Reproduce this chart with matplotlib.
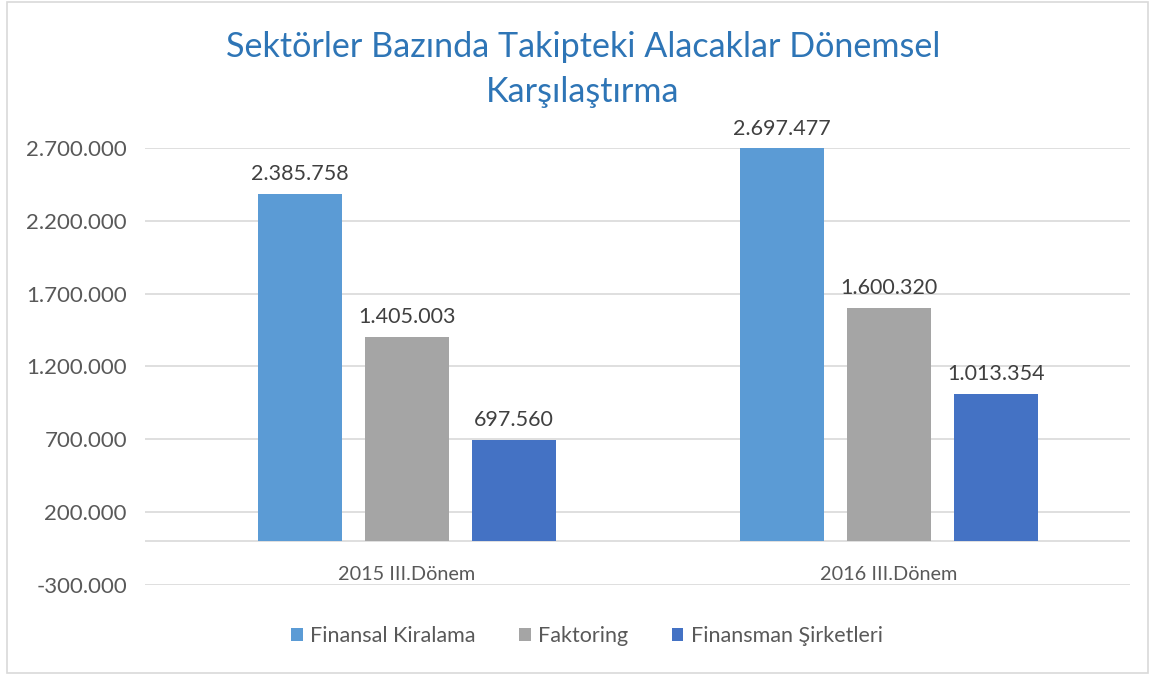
import matplotlib
matplotlib.use("Agg")
import matplotlib.pyplot as plt
from matplotlib.patches import Rectangle
from matplotlib.ticker import FuncFormatter

plt.rcParams['font.family'] = ['Lato', 'DejaVu Sans']

categories = ["2015 III.Dönem", "2016 III.Dönem"]
series_names = ["Finansal Kiralama", "Faktoring", "Finansman Şirketleri"]
finansal_kiralama = [2385758, 2697477]
faktoring = [1405003, 1600320]
finansman = [697560, 1013354]
yticks = [-300000, 200000, 700000, 1200000, 1700000, 2200000, 2700000]
title = "Sektörler Bazında Takipteki Alacaklar Dönemsel\nKarşılaştırma"

colors = ["#5B9BD5", "#A5A5A5", "#4472C4"]
text_color = "#595959"
grid_color = "#D9D9D9"

def fmt(v):
    s = f"{abs(int(round(v))):,}".replace(",", ".")
    return ("-" if v < 0 else "") + s

fig = plt.figure(figsize=(11.55, 6.75), dpi=100)
ax = fig.add_axes([145/1155, 1-585/675, (1130-145)/1155, (585-148)/675])

series = [finansal_kiralama, faktoring, finansman]
bw = 0.174
step = 0.222
for i, (name, vals, c) in enumerate(zip(series_names, series, colors)):
    xs = [k + (i - 1) * step for k in range(len(categories))]
    ax.bar(xs, vals, width=bw, color=c, label=name, zorder=3)
    for x, v in zip(xs, vals):
        ax.annotate(fmt(v), (x, v), xytext=(0, 7), textcoords="offset points",
                    ha="center", va="bottom", fontsize=15.5, color="#404040")

ax.set_xlim(-0.5436, 1.5)
ax.set_ylim(-300000, 2700000)
ax.set_yticks(yticks)
ax.yaxis.set_major_formatter(FuncFormatter(lambda v, p: fmt(v)))
ax.tick_params(axis='y', length=0, labelsize=16, labelcolor=text_color, pad=13)
ax.set_xticks([])
ax.grid(axis='y', color=grid_color, linewidth=1.2, zorder=0)
ax.axhline(0, color=grid_color, linewidth=1.2, zorder=1)
for s in ax.spines.values():
    s.set_visible(False)

for k, cat in enumerate(categories):
    ax.text(k, -227000, cat, ha="center", va="center", fontsize=14.3, color=text_color)

fig.suptitle(title, x=583/1155, y=1-31/675, va="top", fontsize=24.6, color="#2E75B6", linespacing=1.5)

handles, labels = ax.get_legend_handles_labels()
leg = fig.legend(handles, labels, loc="center", bbox_to_anchor=(587/1155, 1-636/675), ncol=3,
                 frameon=False, fontsize=15.5, handlelength=0.55, handleheight=0.55,
                 handletextpad=0.35, columnspacing=2.0, labelcolor=text_color)

fig.patches.append(Rectangle((7/1155, 2/675), 1141/1155, 671/675, transform=fig.transFigure,
                             fill=False, edgecolor=grid_color, linewidth=1.2))

fig.savefig("out.png", dpi=100, facecolor="white")
